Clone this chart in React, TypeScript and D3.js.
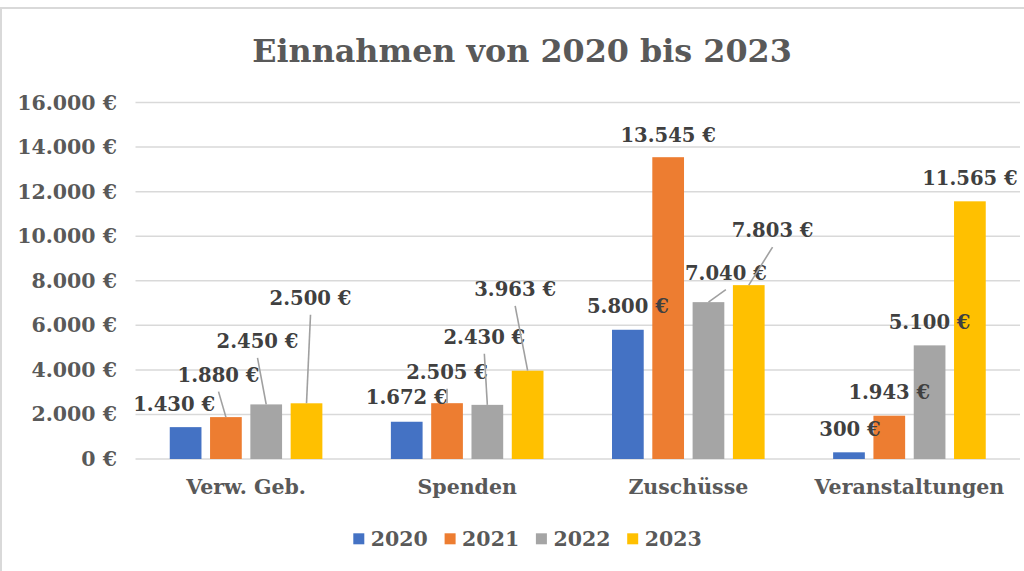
import React from "react";
import * as d3 from "d3";

const categories = ["Verw. Geb.", "Spenden", "Zuschüsse", "Veranstaltungen"];
const years = ["2020", "2021", "2022", "2023"];
const values2020 = [1430, 1672, 5800, 300];
const values2021 = [1880, 2505, 13545, 1943];
const values2022 = [2450, 2430, 7040, 5100];
const values2023 = [2500, 3963, 7803, 11565];
const yTicks = [0, 2000, 4000, 6000, 8000, 10000, 12000, 14000, 16000];
const colors = ["#4472C4", "#ED7D31", "#A5A5A5", "#FFC000"];

// label offsets from bar top (px) per year, per category
const labelOffsets = [
  [[-11.5, -23], [0, -24.5], [0, -23], [1, -23]],
  [[-7.4, -42], [0, -31], [0, -22], [0, -23.4]],
  [[-8.7, -63], [-3, -67.6], [17.4, -29], [0, -23]],
  [[4, -105], [-12.5, -81.4], [23.8, -54.5], [0, -23]],
];

const series = [values2020, values2021, values2022, values2023];

const width = 1024;
const height = 571;
const margin = { left: 135.5, right: 4, top: 102.5, bottom: 112 };

const fmt = (v: number) => d3.format(",")(v).replace(/,/g, ".") + " €";
const font = "'DejaVu Serif', Georgia, serif";

export default function App() {
  const x0 = d3
    .scaleBand()
    .domain(categories)
    .range([margin.left, width - margin.right]);
  const x1 = d3
    .scaleBand()
    .domain(years)
    .range([-80.6, 80.6])
    .paddingInner(0.213)
    .paddingOuter(0.1065);
  const y = d3
    .scaleLinear()
    .domain([0, 16000])
    .range([height - margin.bottom, margin.top]);

  const legendStep = 91.3;
  const legendX = 353.3;

  return (
    <svg
      width={width}
      height={height}
      style={{ position: "absolute", left: 0, top: 0, background: "#fff" }}
      fontFamily={font}
      fontWeight="bold"
    >
      <rect x={1} y={8} width={1100} height={700} fill="#fff" stroke="#d9d9d9" strokeWidth={2} />
      <text x={522} y={50} textAnchor="middle" dominantBaseline="central" fontSize={31.8} fill="#595959">
        Einnahmen von 2020 bis 2023
      </text>

      {/* grid + y axis */}
      {yTicks.map((t) => (
        <g key={t}>
          <line
            x1={margin.left}
            x2={width - margin.right}
            y1={y(t)}
            y2={y(t)}
            stroke="#d9d9d9"
            strokeWidth={1.5}
          />
          <text x={117} y={y(t)} textAnchor="end" dominantBaseline="central" fontSize={20.5} fill="#595959">
            {fmt(t)}
          </text>
        </g>
      ))}

      {/* bars */}
      {series.map((vals, si) =>
        vals.map((v, ci) => (
          <rect
            key={`${si}-${ci}`}
            x={x0(categories[ci])! + x0.bandwidth() / 2 + x1(years[si])!}
            y={y(v)}
            width={x1.bandwidth()}
            height={y(0) - y(v)}
            fill={colors[si]}
          />
        ))
      )}

      {/* data labels */}
      {series.map((vals, si) =>
        vals.map((v, ci) => {
          const bx = x0(categories[ci])! + x0.bandwidth() / 2 + x1(years[si])! + x1.bandwidth() / 2;
          const by = y(v);
          const [dx, dy] = labelOffsets[si][ci];
          const lx = bx + dx;
          const ly = by + dy;
          return (
            <g key={`l-${si}-${ci}`}>
              {dy < -27 && (
                <line x1={lx} y1={ly + 16.5} x2={bx} y2={by} stroke="#a0a0a0" strokeWidth={1.6} />
              )}
              <text x={lx} y={ly} textAnchor="middle" dominantBaseline="central" fontSize={19.6} fill="#404040">
                {fmt(v)}
              </text>
            </g>
          );
        })
      )}

      {/* category labels */}
      {categories.map((c) => (
        <text
          key={c}
          x={x0(c)! + x0.bandwidth() / 2}
          y={487}
          textAnchor="middle"
          dominantBaseline="central"
          fontSize={20.5}
          fill="#595959"
        >
          {c}
        </text>
      ))}

      {/* legend */}
      {years.map((yr, i) => (
        <g key={yr} transform={`translate(${legendX + i * legendStep},533.3)`}>
          <rect width={11} height={11} fill={colors[i]} />
          <text x={17.5} y={6} dominantBaseline="central" fontSize={20.5} fill="#595959">
            {yr}
          </text>
        </g>
      ))}
    </svg>
  );
}
